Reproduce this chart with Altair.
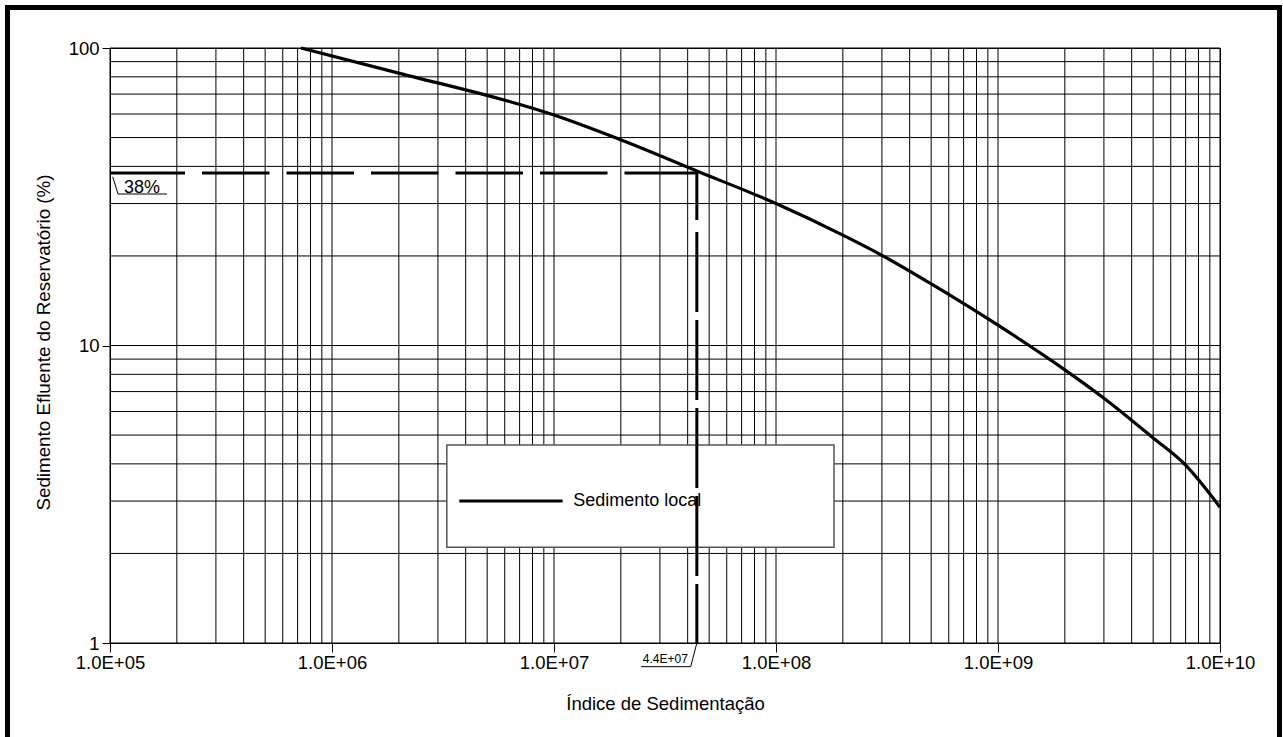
import altair as alt
import pandas as pd

# ---- data ----
curve_x = [7.25e5, 2.02e6, 1e7, 1.92e7, 4.4e7, 1e8, 2e8, 3e8, 4.94e8,
           1e9, 2e9, 3e9, 5e9, 7e9, 1e10]
curve_y = [100, 82.2, 59.5, 49.7, 38.6, 30.0, 23.5, 20.1, 16.2,
           11.7, 8.28, 6.65, 4.89, 3.96, 2.86]

x_decades = [1e5, 1e6, 1e7, 1e8, 1e9, 1e10]
y_decades = [1, 10, 100]
grid_x = [m * 10 ** k for k in range(5, 10) for m in range(1, 10)] + [1e10]
grid_y = [m * 10 ** k for k in range(0, 2) for m in range(1, 10)] + [100]

mark_x = [4.4e7]
mark_y = [38]
mark_label_y = ["38%"]
mark_label_x = ["4.4E+07"]
series_name = ["Sedimento local"]

FONT = "Liberation Sans"

xscale = alt.Scale(type="log", domain=[1e5, 1e10], nice=False)
yscale = alt.Scale(type="log", domain=[1, 100], nice=False)

xaxis = alt.Axis(
    values=x_decades, grid=False,
    labelExpr="'1.0E+' + format(round(log(datum.value)/LN10), '02d')",
    title="Índice de Sedimentação", tickSize=9, tickColor="black",
    domainColor="black", labelFontSize=18.5, labelFont=FONT, labelColor="black",
    labelPadding=1, labelFlush=False, labelOverlap=False,
    titleFont=FONT, titleFontSize=18.5, titleFontWeight="normal", titleColor="black",
    titleX=555, titleY=60, titleBaseline="middle", titleAlign="center",
)
yaxis = alt.Axis(
    values=y_decades, grid=False, labelExpr="format(datum.value, 'd')",
    title="Sedimento Efluente do Reservatório (%)", tickSize=8, tickColor="black",
    domainColor="black", labelFontSize=18.5, labelFont=FONT, labelColor="black",
    labelPadding=3, labelOverlap=False,
    titleFont=FONT, titleFontSize=18.8, titleFontWeight="normal", titleColor="black",
    titleAngle=270, titleX=-67, titleY=294, titleBaseline="middle", titleAlign="center",
)


def X(f):
    return alt.X(f, type="quantitative", scale=xscale, axis=xaxis)


def Y(f):
    return alt.Y(f, type="quantitative", scale=yscale, axis=yaxis)


one = pd.DataFrame({"a": [0]})

grid_v = alt.Chart(pd.DataFrame({"gx": grid_x})).mark_rule(
    color="black", strokeWidth=1).encode(x=X("gx"))
grid_h = alt.Chart(pd.DataFrame({"gy": grid_y})).mark_rule(
    color="black", strokeWidth=1).encode(y=Y("gy"))

# legend box (in data coordinates)
legend_df = pd.DataFrame({"x1": [3.29e6], "x2": [1.825e8], "y1": [4.63], "y2": [2.097],
                          "lx1": [3.745e6], "lx2": [1.094e7], "ly": [3.0],
                          "tx": [1.22e7], "name": series_name})
legend_box = alt.Chart(legend_df).mark_rect(
    fill="white", stroke="#555555", strokeWidth=1.5).encode(
    x=X("x1"), x2="x2", y=Y("y1"), y2="y2")
legend_line = alt.Chart(legend_df).mark_rule(
    color="black", strokeWidth=3).encode(x=X("lx1"), x2="lx2", y=Y("ly"))
legend_text = alt.Chart(legend_df).mark_text(
    align="left", baseline="middle", font=FONT, fontSize=18, color="black").encode(
    x=X("tx"), y=Y("ly"), text="name")

curve = alt.Chart(pd.DataFrame({"x": curve_x, "y": curve_y})).mark_line(
    color="black", strokeWidth=3.2, interpolate="monotone").encode(x=X("x"), y=Y("y"))

ref_df = pd.DataFrame({"x0": [1e5], "xm": mark_x, "ym": mark_y, "y0": [1]})
h_dash = alt.Chart(ref_df).mark_rule(
    color="black", strokeWidth=3,
    strokeDash=[75, 17, 67.5, 17, 67.5, 17, 67.5, 17, 67.5, 17, 67.5, 17, 80, 10]).encode(
    x=X("x0"), x2="xm", y=Y("ym"))
v_dash = alt.Chart(ref_df).mark_rule(
    color="black", strokeWidth=3,
    strokeDash=[47, 12, 80, 8, 80, 8, 80, 8, 80, 8, 80, 8]).encode(
    x=X("xm"), y=Y("ym"), y2="y0")

# "38%" annotation
ann1 = pd.DataFrame({"x": [1e5], "y": mark_y, "t": mark_label_y,
                     "ux1": [1.087e5], "ux2": [1.806e5], "uy": [32.3],
                     "lx": [1.028e5], "ly": [36.9]})
ann1_text = alt.Chart(ann1).mark_text(
    align="left", baseline="alphabetic", dx=14, dy=20, font=FONT, fontSize=18,
    color="black").encode(x=X("x"), y=Y("y"), text="t")
ann1_under = alt.Chart(ann1).mark_rule(color="black", strokeWidth=1).encode(
    x=X("ux1"), x2="ux2", y=Y("uy"))
ann1_lead = alt.Chart(ann1).mark_rule(color="black", strokeWidth=1).encode(
    x=X("lx"), x2="ux1", y=Y("ly"), y2="uy")

# "4.4E+07" annotation
ann2 = pd.DataFrame({"x": mark_x, "y": [1], "t": mark_label_x,
                     "ux1": [2.466e7], "ux2": [4.128e7], "uy": [0.8325]})
ann2_text = alt.Chart(ann2).mark_text(
    align="left", baseline="alphabetic", dx=-54, dy=20, font=FONT, fontSize=12,
    color="black").encode(x=X("x"), y=Y("y"), text="t")
ann2_under = alt.Chart(ann2).mark_rule(color="black", strokeWidth=1).encode(
    x=X("ux1"), x2="ux2", y=Y("uy"))
ann2_lead = alt.Chart(ann2).mark_rule(color="black", strokeWidth=1).encode(
    x=X("ux2"), x2="x", y=Y("uy"), y2="y")

frame = alt.Chart(one).mark_rect(
    fill="white", fillOpacity=0, stroke="black", strokeWidth=5).encode(
    x=alt.value(-102.5), x2=alt.value(1169.5), y=alt.value(-40.5), y2=alt.value(700))

chart = alt.layer(
    grid_v, grid_h, legend_box, curve, h_dash, v_dash, legend_line, legend_text,
    ann1_text, ann1_under, ann1_lead, ann2_text, ann2_under, ann2_lead, frame,
).properties(
    width=1110, height=595,
    autosize=alt.AutoSizeParams(type="none"),
    padding={"left": 110, "top": 48, "right": 63, "bottom": 94},
    background="white",
).configure_view(stroke="black", strokeWidth=1)

chart.save("out.html", embed_options={"renderer": "svg", "actions": False})
